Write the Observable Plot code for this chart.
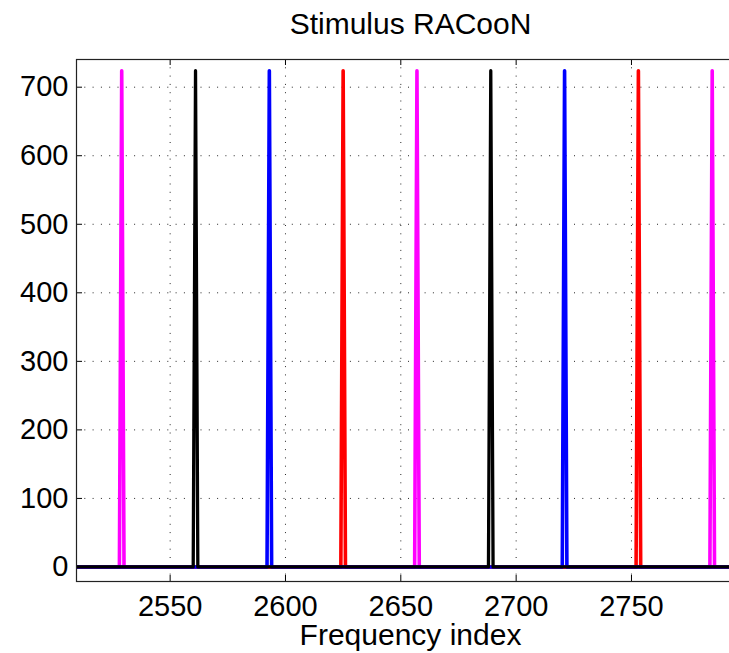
<!DOCTYPE html>
<html>
<head>
<meta charset="utf-8">
<script src="https://cdn.jsdelivr.net/npm/d3@7"></script>
<script src="https://cdn.jsdelivr.net/npm/@observablehq/plot@0.6"></script>
<style>
  html, body { margin: 0; padding: 0; background: #fff; overflow: hidden; }
  #chart { width: 729px; height: 653px; overflow: hidden; }
</style>
</head>
<body>
<div id="chart"></div>
<script>
// Series data (frequency index, amplitude)
const magentaX = [2500, 2528, 2529, 2530, 2656, 2657, 2658, 2784, 2785, 2786, 2810];
const magentaY = [0, 0, 724, 0, 0, 724, 0, 0, 724, 0, 0];
const blueX = [2500, 2592, 2593, 2594, 2720, 2721, 2722, 2810];
const blueY = [0, 0, 724, 0, 0, 724, 0, 0];
const redX = [2500, 2624, 2625, 2626, 2752, 2753, 2754, 2810];
const redY = [0, 0, 724, 0, 0, 724, 0, 0];
const blackX = [2500, 2560, 2561, 2562, 2688, 2689, 2690, 2810];
const blackY = [0, 0, 724, 0, 0, 724, 0, 0];

const xTicks = [2550, 2600, 2650, 2700, 2750];
const yTicks = [0, 100, 200, 300, 400, 500, 600, 700];
const titleText = "Stimulus RACooN";
const xLabelText = "Frequency index";

const seriesList = [
  {name: "magenta", color: "#ff00ff", xs: magentaX, ys: magentaY, w: 3.6},
  {name: "red", color: "#ff0000", xs: redX, ys: redY, w: 3.6},
  {name: "blue", color: "#0000ff", xs: blueX, ys: blueY, w: 3.6},
  {name: "black", color: "#000000", xs: blackX, ys: blackY, w: 3.3}
];
const rows = seriesList.flatMap(s => s.xs.map((x, i) => ({series: s.name, color: s.color, x, y: s.ys[i]})));

const W = 744, H = 653, mL = 76, mR = 0, mT = 59, mB = 72;
const frameH = H - mT - mB, frameW = W - mL - mR;
const font = "'Liberation Sans', Arial, Helvetica, sans-serif";
const dotted = {stroke: "#000", strokeOpacity: 0.85, strokeWidth: 1, strokeDasharray: "1,7.3"};

const chart = Plot.plot({
  width: W, height: H,
  marginLeft: mL, marginRight: mR, marginTop: mT, marginBottom: mB,
  style: {fontFamily: font, fontSize: "29px", maxWidth: "none", overflow: "visible", background: "#fff", color: "#000"},
  x: {domain: [2509.4, 2799], ticks: xTicks},
  y: {domain: [-21.2, 740.4], ticks: yTicks},
  marks: [
    Plot.gridX(xTicks, {...dotted}),
    Plot.gridY(yTicks, {...dotted}),
    ...seriesList.map(s => Plot.line(rows.filter(r => r.series === s.name), {
      x: "x", y: "y", stroke: s.color, strokeWidth: s.w, strokeLinejoin: "round", clip: true
    })),
    Plot.ruleX(xTicks, {x: d => d, insetTop: frameH - 6, stroke: "#000"}),
    Plot.ruleX(xTicks, {x: d => d, insetBottom: frameH - 6, stroke: "#000"}),
    Plot.ruleY(yTicks, {y: d => d, insetRight: frameW - 6, stroke: "#000"}),
    Plot.frame({stroke: "#222", strokeWidth: 1.2}),
    Plot.axisX(xTicks, {tickSize: 0, tickPadding: 14, fontSize: 29, label: null, tickFormat: d => String(d)}),
    Plot.axisY(yTicks, {tickSize: 0, tickPadding: 8, fontSize: 29, label: null, tickFormat: d => String(d)}),
    Plot.text([titleText], {text: d => d, frameAnchor: "top", dy: -35, fontSize: 30, lineAnchor: "middle"}),
    Plot.text([xLabelText], {text: d => d, frameAnchor: "bottom", dy: 54, fontSize: 30, lineAnchor: "middle"})
  ]
});
document.getElementById("chart").appendChild(chart);
</script>
</body>
</html>
